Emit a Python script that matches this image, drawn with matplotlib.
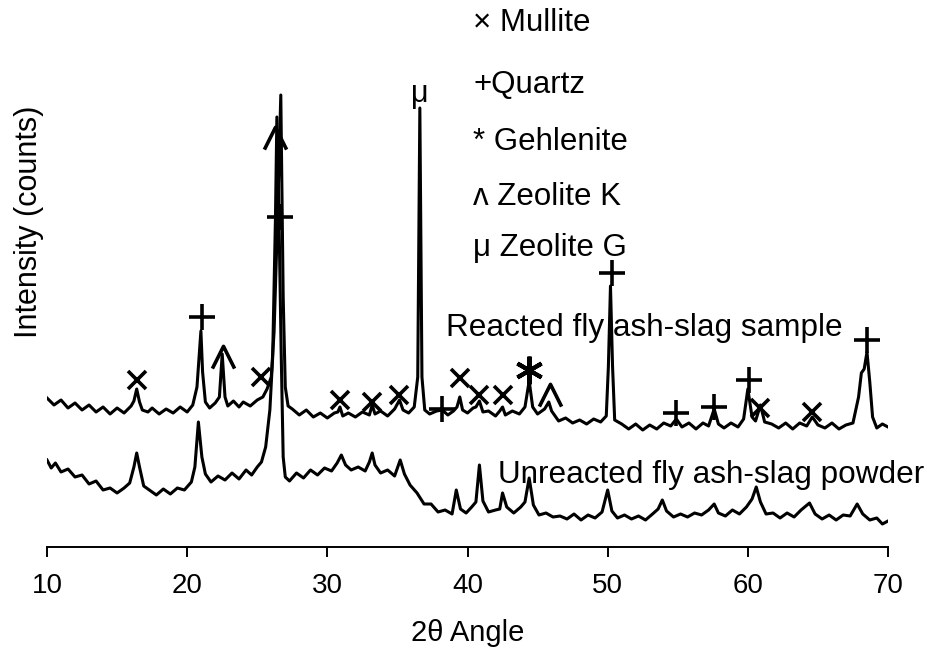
import matplotlib
matplotlib.use("Agg")
import matplotlib.pyplot as plt

plt.rcParams['font.family'] = ['Liberation Sans', 'DejaVu Sans']

# Reacted fly ash-slag sample (2theta, intensity)
react_2theta = [
    10.0, 10.5, 11.0, 11.5, 12.0, 12.5, 13.0, 13.5, 14.0, 14.5, 15.0, 15.5,
    16.0, 16.2, 16.4, 16.6, 16.8, 17.2, 17.5, 18.0, 18.5, 19.0, 19.5, 20.0,
    20.4, 20.7, 20.85, 20.98, 21.1, 21.3, 21.6, 22.0, 22.3, 22.5, 22.7, 22.9,
    23.3, 23.7, 24.0, 24.5, 25.0, 25.4, 25.7, 26.0, 26.2, 26.45, 26.68, 26.85,
    27.0, 27.2, 27.5, 28.0, 28.5, 29.0, 29.5, 30.0, 30.5, 30.75, 30.9, 31.1,
    31.5, 32.0, 32.5, 33.0, 33.2, 33.4, 33.8, 34.3, 34.8, 35.15, 35.4, 35.8,
    36.2, 36.45, 36.6, 36.75, 36.95, 37.3, 37.8, 38.2, 38.6, 39.0, 39.25, 39.45,
    39.65, 40.0, 40.4, 40.6, 40.85, 41.1, 41.5, 42.0, 42.3, 42.5, 42.7, 43.2,
    43.7, 44.1, 44.4, 44.65, 45.0, 45.5, 45.8, 46.0, 46.5, 47.0, 47.5, 48.0,
    48.5, 49.0, 49.5, 49.9, 50.05, 50.2, 50.35, 50.5, 51.0, 51.5, 52.0, 52.5,
    53.0, 53.5, 54.0, 54.5, 54.9, 55.3, 55.8, 56.3, 56.8, 57.2, 57.6, 57.9,
    58.3, 58.8, 59.3, 59.7, 60.0, 60.3, 60.55, 60.9, 61.2, 61.7, 62.2, 62.7,
    63.2, 63.7, 64.2, 64.6, 65.0, 65.5, 66.0, 66.5, 67.0, 67.5, 67.9, 68.1,
    68.3, 68.5, 68.7, 68.9, 69.2, 69.6, 70.0,
]
react_counts = [
    149, 142, 147, 139, 144, 137, 142, 135, 140, 133, 139, 134,
    141, 146, 158, 145, 137, 135, 139, 133, 138, 134, 140, 135,
    142, 160, 190, 216, 175, 145, 139, 144, 150, 193, 150, 141,
    146, 140, 145, 141, 147, 150, 158, 170, 215, 330, 452, 250,
    160, 141, 138, 132, 137, 130, 134, 129, 134, 135, 140, 131,
    134, 130, 135, 132, 142, 133, 136, 131, 138, 147, 137, 134,
    140, 170, 439, 170, 137, 133, 136, 137, 132, 136, 140, 150,
    137, 134, 139, 140, 146, 135, 136, 131, 136, 140, 132, 136,
    133, 140, 166, 140, 133, 138, 145, 136, 126, 129, 124, 127,
    123, 128, 125, 131, 180, 261, 180, 127, 123, 118, 123, 117,
    122, 118, 124, 121, 128, 120, 124, 118, 124, 121, 138, 123,
    119, 124, 120, 128, 158, 130, 126, 142, 125, 123, 119, 124,
    118, 124, 121, 130, 122, 119, 124, 118, 122, 124, 150, 174,
    178, 195, 165, 130, 119, 123, 120,
]

# Unreacted fly ash-slag powder
unreact_2theta = [
    10.0, 10.3, 10.6, 11.0, 11.5, 12.0, 12.5, 13.0, 13.5, 14.0, 14.5, 15.0,
    15.5, 15.9, 16.2, 16.4, 16.6, 16.9, 17.3, 17.8, 18.3, 18.8, 19.3, 19.8,
    20.3, 20.55, 20.8, 21.05, 21.3, 21.7, 22.2, 22.7, 23.2, 23.7, 24.2, 24.6,
    25.0, 25.3, 25.6, 25.9, 26.1, 26.3, 26.4, 26.55, 26.7, 26.85, 27.0, 27.3,
    27.8, 28.3, 28.8, 29.3, 29.8, 30.3, 30.7, 31.0, 31.3, 31.7, 32.2, 32.7,
    33.0, 33.2, 33.4, 33.8, 34.3, 34.8, 35.2, 35.5, 35.9, 36.4, 36.9, 37.4,
    37.9, 38.4, 38.9, 39.2, 39.5, 39.9, 40.3, 40.6, 40.85, 41.1, 41.5, 42.0,
    42.3, 42.5, 42.8, 43.3, 43.8, 44.1, 44.4, 44.7, 45.1, 45.6, 46.1, 46.6,
    47.1, 47.6, 48.1, 48.6, 49.1, 49.6, 50.0, 50.3, 50.7, 51.2, 51.7, 52.2,
    52.7, 53.2, 53.6, 53.9, 54.2, 54.7, 55.2, 55.7, 56.2, 56.7, 57.2, 57.6,
    57.9, 58.4, 58.9, 59.4, 59.9, 60.3, 60.6, 60.9, 61.3, 61.8, 62.3, 62.8,
    63.3, 63.8, 64.4, 64.8, 65.3, 65.8, 66.3, 66.8, 67.3, 67.8, 68.2, 68.7,
    69.2, 69.6, 70.0,
]
unreact_counts = [
    87, 79, 84, 75, 78, 70, 72, 63, 66, 57, 59, 54,
    59, 64, 80, 94, 80, 61, 57, 52, 58, 53, 59, 57,
    65, 80, 125, 90, 73, 65, 71, 67, 74, 68, 77, 72,
    80, 85, 100, 137, 190, 330, 430, 330, 200, 90, 70, 66,
    74, 69, 77, 72, 79, 76, 84, 92, 82, 77, 80, 76,
    85, 94, 82, 74, 77, 71, 87, 73, 62, 54, 43, 43,
    35, 37, 33, 57, 38, 34, 40, 45, 82, 46, 35, 37,
    38, 54, 40, 34, 40, 45, 69, 42, 32, 34, 30, 31,
    28, 33, 27, 32, 29, 35, 57, 36, 29, 32, 28, 31,
    27, 33, 38, 47, 36, 30, 33, 30, 34, 32, 37, 43,
    34, 31, 37, 33, 40, 48, 60, 45, 33, 34, 29, 34,
    30, 37, 44, 33, 28, 32, 27, 32, 31, 43, 33, 27,
    29, 23, 26,
]

# phase markers above the reacted pattern: (2theta, height)
mullite = [(16.4, 167), (25.3, 170), (30.9, 147), (33.2, 145), (35.1, 152),
           (39.45, 169), (40.8, 152), (42.5, 152), (60.9, 139), (64.6, 135)]
quartz = [(21.05, 230), (26.6, 330), (38.2, 138), (50.3, 274), (54.9, 134),
          (57.6, 140), (60.1, 167), (68.5, 207)]
gehlenite = [(44.4, 177)]
zeolite_k = [(22.55, 190), (26.26, 409), (45.9, 152)]
zeolite_g = [(36.6, 453)]

legend_items = ["\u00d7 Mullite", "+Quartz", "* Gehlenite", "\u028c Zeolite K", "\u03bc Zeolite G"]
legend_y = [524, 462, 405, 350, 299]

fig = plt.figure(figsize=(9.27, 6.48), dpi=100)
ax = fig.add_axes([47 / 927, 101 / 648, 841 / 927, 547 / 648])

ax.plot(react_2theta, react_counts, color='black', lw=2.2)
ax.plot(unreact_2theta, unreact_counts, color='black', lw=2.2)

def put(points, **kw):
	xs = [p[0] for p in points]
	ys = [p[1] for p in points]
	ax.plot(xs, ys, ls='none', color='black', mfc='none', clip_on=False, **kw)

put(mullite, marker='x', ms=13, mew=2.6)
put(quartz, marker='+', ms=19, mew=2.6)
put(gehlenite, marker=(6, 2, 0), ms=20, mew=3)
put(zeolite_k, marker=[(-1, -1), (0, 1), (1, -1)], ms=16, mew=2.6)
for x, y in zeolite_g:
	ax.text(x, y, "\u03bc", fontsize=22, ha='center', va='center')

for label, y in zip(legend_items, legend_y):
	ax.text(40.4, y, label, fontsize=22.5, ha='left', va='center')

ax.text(38.5, 219, "Reacted fly ash-slag sample", fontsize=22.7, ha='left', va='center')
ax.text(42.2, 72, "Unreacted fly ash-slag powder", fontsize=22.7, ha='left', va='center')

ax.set_xlim(10, 70)
ax.set_ylim(0, 547)
ax.set_xticks([10, 20, 30, 40, 50, 60, 70])
ax.set_yticks([])
for s in ['top', 'right', 'left']:
	ax.spines[s].set_visible(False)
ax.spines['bottom'].set_linewidth(1.4)
ax.tick_params(axis='x', direction='out', length=7, width=1.4, labelsize=20, pad=12)
ax.set_xlabel("2\u03b8 Angle", fontsize=21, labelpad=14)
ax.set_ylabel("Intensity (counts)", fontsize=22)
ax.yaxis.set_label_coords(-0.004, 0.594)

fig.savefig("out.png", dpi=100)
